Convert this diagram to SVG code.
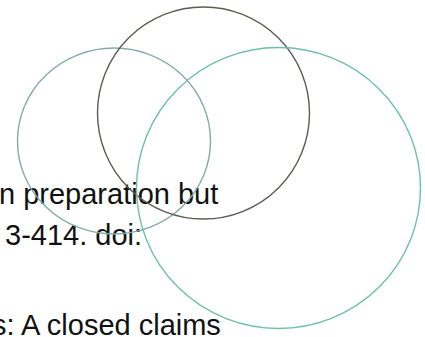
<svg xmlns="http://www.w3.org/2000/svg" width="425" height="337" viewBox="0 0 425 337">
<style>
.t{font-family:"Liberation Sans",Arial,sans-serif;font-size:29px;fill:#111}
.c{fill:none;stroke-width:1.4}
</style>
<rect width="425" height="337" fill="#fff"/>
<g id="text">
<text class="t" x="-1" y="204">n preparation but</text>
<text class="t" x="5" y="245">3-414. doi:</text>
<text class="t" x="-8" y="335">s: A closed claims</text>
</g>
<g id="circle-left"><ellipse class="c" cx="114" cy="141" rx="96.5" ry="93" stroke="#84abab"/></g>
<g id="circle-top"><circle class="c" cx="203.5" cy="113" r="106" stroke="#5d5b52"/></g>
<g id="circle-right"><ellipse class="c" cx="278.5" cy="188" rx="142" ry="140.5" stroke="#6dbfa8"/></g>
</svg>
